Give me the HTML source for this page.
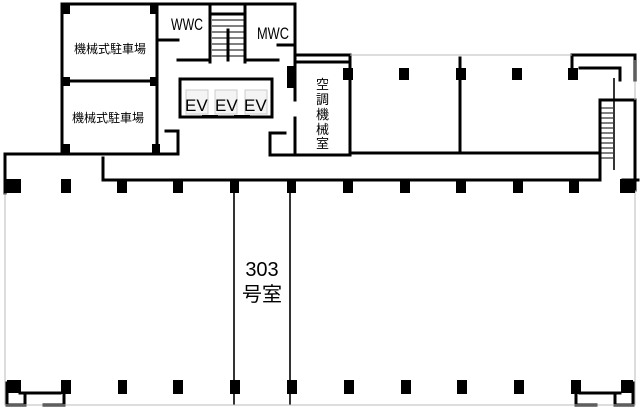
<!DOCTYPE html>
<html><head><meta charset="utf-8"><style>
html,body{margin:0;padding:0;background:#fff;}
svg{display:block}
text{font-family:"Liberation Sans","Noto Sans CJK JP",sans-serif;fill:#000}
</style></head><body>
<svg width="640" height="412" viewBox="0 0 640 412" xmlns="http://www.w3.org/2000/svg">
<g stroke="#000" stroke-width="3" fill="none" stroke-linecap="square">
<path d="M62 4 H295 V100"/>
<path d="M62 4 V154"/>
<path d="M157 4 V150"/>
<path d="M62 81 H157"/>
<path d="M5 154 H178 V131 H166"/>
<path d="M5 154 V193"/>
<path d="M103 158 V180 H600"/>
<path d="M160 40 H178"/>
<path d="M178 60 H210"/>
<path d="M210 4 V62"/>
<path d="M245 4 V62"/>
<path d="M228 30 V60"/>
<path d="M248 60 H278"/>
<path d="M278 45 H295"/>
<path d="M212 14 H244"/>
<path d="M180 79 H272 V117 H180 Z"/>
<path d="M295 55 H350 V155"/>
<path d="M270 133 H285"/>
<path d="M270 133 V155 H350"/>
<path d="M295 118 V155"/>
<path d="M350 153 H600"/>
<path d="M460 58 V153"/>
<path d="M295 62 H350"/>
<path d="M572 55 H635 V80"/>
<path d="M572 55 V68 M580 68 H620 V80"/>
<path d="M600 100 H635 V190"/>
<path d="M600 100 V178"/>
<path d="M623 180 H638"/>
<path d="M7 383 V405 H25 V393 M44 405 H64 V393 M20 393 H60"/>
<path d="M633 383 V405 H615 V393 M596 405 H576 V393 M620 393 H580"/>
</g>
<g stroke="#000" stroke-width="1.6" fill="none">
<path d="M614 78 V170"/>
<path d="M234 185 V405"/><path d="M290 185 V405"/>
</g>
<g stroke="#000" stroke-width="1" fill="none">
<path d="M601 108 H613 M601 113 H613 M601 118 H613 M601 123 H613 M601 128 H613 M601 133 H613 M601 138 H613 M601 143 H613 M601 148 H613 M601 153 H613 M601 158 H613"/>
<path d="M212 20 H244 M212 26 H244 M212 32 H244 M212 38 H244 M212 44 H244 M212 50 H244 M212 56 H244"/>
</g>
<g stroke="#bbb" stroke-width="1" fill="none">
<path d="M5 193 V405 H635 V190"/>
<path d="M350 55 H572"/>
<path d="M635 60 V100"/>
</g>
<g fill="#000">
<rect x="62" y="4" width="8" height="10"/><rect x="150" y="4" width="8" height="10"/>
<rect x="62" y="77" width="8" height="9"/><rect x="150" y="77" width="8" height="9"/>
<rect x="62" y="144" width="8" height="10"/><rect x="152" y="144" width="8" height="10"/>
<rect x="287" y="66" width="8" height="22"/>
<rect x="5" y="179" width="16" height="14"/>
<rect x="61" y="179" width="10" height="14"/><rect x="117" y="179" width="10" height="14"/>
<rect x="173" y="179" width="10" height="14"/><rect x="230" y="179" width="9" height="14"/>
<rect x="287" y="179" width="9" height="14"/><rect x="343" y="179" width="10" height="14"/>
<rect x="400" y="179" width="10" height="14"/><rect x="456" y="179" width="10" height="14"/>
<rect x="513" y="179" width="10" height="14"/><rect x="569" y="179" width="10" height="14"/>
<rect x="620" y="179" width="15" height="14"/>
<rect x="343" y="68" width="10" height="12"/><rect x="399" y="68" width="10" height="12"/>
<rect x="456" y="68" width="10" height="12"/><rect x="512" y="68" width="10" height="12"/>
<rect x="568" y="68" width="10" height="12"/>
<rect x="7" y="380" width="14" height="13"/><rect x="61" y="380" width="10" height="14"/>
<rect x="118" y="380" width="9" height="14"/><rect x="173" y="380" width="10" height="14"/>
<rect x="230" y="380" width="10" height="14"/><rect x="287" y="380" width="10" height="14"/>
<rect x="344" y="380" width="10" height="14"/><rect x="401" y="380" width="10" height="14"/>
<rect x="457" y="380" width="10" height="14"/><rect x="514" y="380" width="10" height="14"/>
<rect x="571" y="380" width="10" height="14"/><rect x="621" y="380" width="12" height="13"/>
<rect x="202" y="115" width="16" height="3"/><rect x="234" y="115" width="16" height="3"/>
</g>
<g fill="#f4f4f4" stroke="#ccc" stroke-width="1">
<rect x="186" y="90" width="22" height="24"/><rect x="215" y="90" width="22" height="24"/><rect x="245" y="90" width="22" height="24"/>
</g>
<g font-size="17">
<text x="185" y="111">EV</text><text x="215" y="111">EV</text><text x="244" y="111">EV</text>
</g>
<text x="171" y="30" font-size="17" textLength="32" lengthAdjust="spacingAndGlyphs">WWC</text>
<text x="257" y="39" font-size="17" textLength="32" lengthAdjust="spacingAndGlyphs">MWC</text>
<text x="74" y="53" font-size="12">機械式駐車場</text>
<text x="72" y="122" font-size="12">機械式駐車場</text>
<g font-size="13"><text x="316" y="89">空</text><text x="316" y="104">調</text><text x="316" y="119">機</text><text x="316" y="134">械</text><text x="316" y="148">室</text></g>
<text x="262" y="276" font-size="20" text-anchor="middle">303</text>
<text x="262" y="301" font-size="20" text-anchor="middle">号室</text>
</svg>
</body></html>
